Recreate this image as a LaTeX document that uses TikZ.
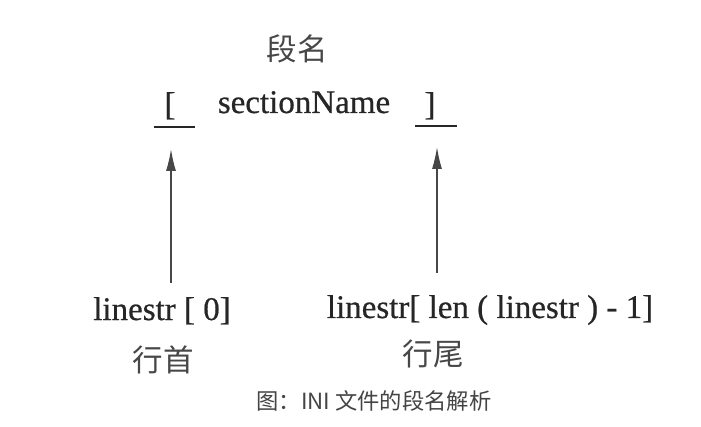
\documentclass[tikz,border=0pt]{standalone}
\usepackage{fontspec}
\setmainfont[FakeBold=0.6]{Liberation Serif}
\newfontfamily\cjk{Noto Sans CJK SC}
\usetikzlibrary{arrows.meta}
\definecolor{ink}{HTML}{262626}
\definecolor{capgray}{HTML}{444444}
\tikzset{
  lbl/.style={inner sep=0pt, text=ink, font=\fontsize{33}{33}\selectfont},
  cjklbl/.style={inner sep=0pt, text=ink!85, font=\cjk\fontsize{30.5}{30.5}\selectfont},
  caption/.style={inner sep=0pt, text=capgray, font=\cjk\fontsize{22.3}{22.3}\selectfont},
  uline/.style={draw=ink, line width=1.8pt},
  arr/.style={draw=ink!85, line width=1.4pt, -{Latex[length=22pt,width=10pt]}}
}
\begin{document}
\begin{tikzpicture}[x=1pt,y=-1pt]
\fill[white] (0,0) rectangle (701,427);
\useasboundingbox (0,0) rectangle (701,427);
% top
\node[cjklbl] (dm) at (297,49) {段名};
\node[lbl, anchor=base] (lb) at (170,115) {[};
\node[lbl, anchor=base] (sn) at (304,113) {sectionName};
\node[lbl, anchor=base] (rb) at (430,115) {]};
% underlines
\coordinate (u1a) at (154,127); \coordinate (u1b) at (195,127);
\coordinate (u2a) at (415,126); \coordinate (u2b) at (457,126);
\draw[uline] (u1a) -- (u1b);
\draw[uline] (u2a) -- (u2b);
% arrows
\coordinate (a1s) at (171,283); \coordinate (a1e) at (171,149);
\coordinate (a2s) at (437,273); \coordinate (a2e) at (437,147);
\draw[arr] (a1s) -- (a1e);
\draw[arr] (a2s) -- (a2e);
% bottom labels
\node[lbl, anchor=base] (l0) at (162,320) {linestr [ 0]};
\node[lbl, anchor=base] (l1) at (490,318) {linestr[ len ( linestr ) - 1]};
\node[cjklbl] (hs) at (163,360) {行首};
\node[cjklbl] (hw) at (433,354) {行尾};
% caption
\node[caption] (cap) at (374,401) {图：INI 文件的段名解析};
\end{tikzpicture}
\end{document}
